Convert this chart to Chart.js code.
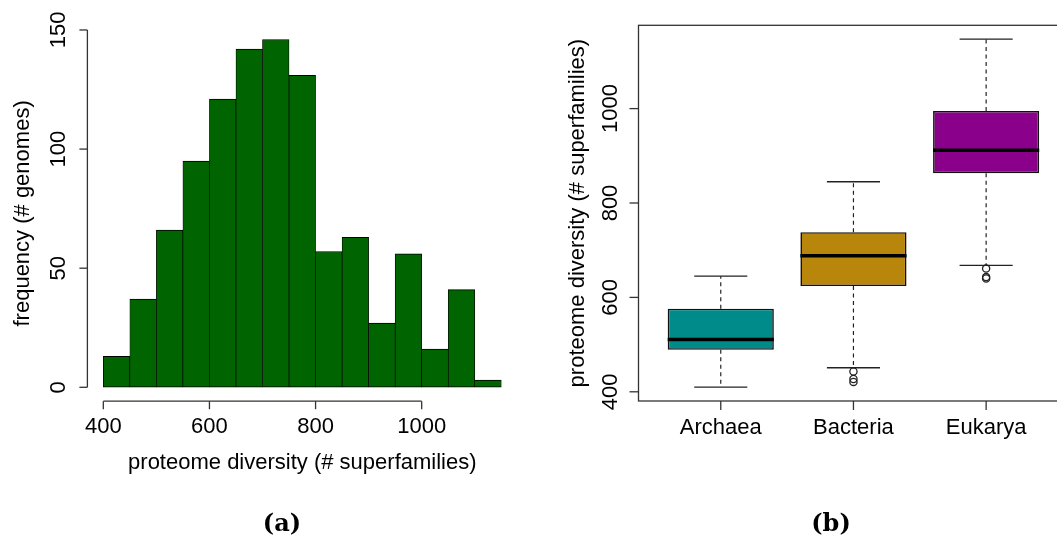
<!DOCTYPE html>
<html>
<head>
<meta charset="utf-8">
<script src="https://cdn.jsdelivr.net/npm/chart.js@4.4.1/dist/chart.umd.min.js"></script>
<style>
	body { margin: 0; background: #fff; overflow: hidden; width: 1057px; height: 538px; position: relative; }
	canvas { position: absolute; top: 0; }
	#hist { left: 0; }
	#box { left: 528px; }
	.caption {
		position: absolute;
		top: 508px;
		width: 80px;
		margin-left: -40px;
		text-align: center;
		font: bold 24px "DejaVu Serif", serif;
		color: #000;
	}
</style>
</head>
<body>
<canvas id="hist" width="528" height="538"></canvas>
<canvas id="box" width="560" height="538"></canvas>
<div class="caption" style="left: 282px;">(a)</div>
<div class="caption" style="left: 831px;">(b)</div>
<script type="text/javascript">
	// (a) histogram of proteome diversity
	var binEdges = [400, 450, 500, 550, 600, 650, 700, 750, 800, 850, 900, 950, 1000, 1050, 1100, 1150];
	var binCounts = [13, 37, 66, 95, 121, 142, 146, 131, 57, 63, 27, 56, 16, 41, 3];
	var histXTicks = [400, 600, 800, 1000];
	var histYTicks = [0, 50, 100, 150];

	// (b) boxplot per domain
	var domains = ['Archaea', 'Bacteria', 'Eukarya'];
	var whiskerLow = [410, 451, 668];
	var quartile1 = [489, 624, 863];
	var medians = [511, 688, 912];
	var quartile3 = [576, 738, 995];
	var whiskerHigh = [645, 845, 1147];
	var outliers = [[], [443, 427, 421], [661, 643, 640]];
	var boxYTicks = [400, 600, 800, 1000];

	var domainColors = ['#008B8B', '#B8860B', '#8B008B'];
	var FONT = '22px "Liberation Sans", Arial, sans-serif';
	var LINE = '#333';

	function txt(ctx, s, x, y, rotate) {
		ctx.save();
		ctx.translate(x, y);
		if (rotate) ctx.rotate(-Math.PI / 2);
		ctx.font = FONT;
		ctx.fillStyle = '#000';
		ctx.textAlign = 'center';
		ctx.textBaseline = 'alphabetic';
		ctx.fillText(s, 0, 0);
		ctx.restore();
	}

	function seg(ctx, x1, y1, x2, y2) {
		ctx.beginPath();
		ctx.moveTo(x1, y1);
		ctx.lineTo(x2, y2);
		ctx.stroke();
	}

	// R style axes, drawn from the chart's own scales
	var histAxes = {
		id: 'histAxes',
		afterDraw: function(chart) {
			var ctx = chart.ctx, a = chart.chartArea;
			var x = chart.scales.x, y = chart.scales.y;
			ctx.save();
			ctx.strokeStyle = LINE;
			ctx.lineWidth = 1.3;

			var y0 = y.getPixelForValue(histYTicks[0]);
			var y1 = y.getPixelForValue(histYTicks[histYTicks.length - 1]);
			seg(ctx, a.left, y0, a.left, y1);
			histYTicks.forEach(function(v) {
				var py = y.getPixelForValue(v);
				seg(ctx, a.left - 8, py, a.left, py);
				txt(ctx, String(v), 65, py, true);
			});
			txt(ctx, 'frequency (# genomes)', 29, (a.top + a.bottom) / 2, true);

			var x0 = x.getPixelForValue(histXTicks[0]);
			var x1 = x.getPixelForValue(histXTicks[histXTicks.length - 1]);
			seg(ctx, x0, a.bottom, x1, a.bottom);
			histXTicks.forEach(function(v) {
				var px = x.getPixelForValue(v);
				seg(ctx, px, a.bottom, px, a.bottom + 8);
				txt(ctx, String(v), px, 433, false);
			});
			txt(ctx, 'proteome diversity (# superfamilies)', (a.left + a.right) / 2, 469, false);
			ctx.restore();
		}
	};

	var boxAxes = {
		id: 'boxAxes',
		afterDraw: function(chart) {
			var ctx = chart.ctx, a = chart.chartArea;
			var x = chart.scales.x, y = chart.scales.y;
			ctx.save();
			ctx.strokeStyle = LINE;
			ctx.lineWidth = 1.3;
			ctx.strokeRect(a.left, a.top, a.right - a.left, a.bottom - a.top);

			boxYTicks.forEach(function(v) {
				var py = y.getPixelForValue(v);
				seg(ctx, a.left - 9, py, a.left, py);
				txt(ctx, String(v), 89, py, true);
			});
			txt(ctx, 'proteome diversity (# superfamilies)', 56, (a.top + a.bottom) / 2, true);

			domains.forEach(function(d, i) {
				var px = x.getPixelForValue(i + 1);
				seg(ctx, px, a.bottom, px, a.bottom + 9);
				txt(ctx, d, px, 433.5, false);
			});
			ctx.restore();
		}
	};

	var hidden = { display: false };

	new Chart(document.getElementById('hist').getContext('2d'), {
		type: 'bar',
		data: {
			datasets: [{
				data: binCounts.map(function(c, i) {
					return { x: (binEdges[i] + binEdges[i + 1]) / 2, y: c };
				}),
				backgroundColor: '#006400',
				borderColor: '#000',
				borderWidth: { top: 1, bottom: 1, left: 0.7, right: 0.7 },
				borderSkipped: false,
				categoryPercentage: 1,
				barPercentage: 1
			}]
		},
		options: {
			responsive: false,
			animation: false,
			events: [],
			layout: { padding: { left: 87.4, top: 25.6, right: 10.8, bottom: 136.8 } },
			plugins: { legend: hidden, tooltip: { enabled: false } },
			scales: {
				x: {
					type: 'linear', display: false, offset: false,
					min: 370, max: 1180,
					afterBuildTicks: function(s) { s.ticks = histXTicks.map(function(v) { return { value: v }; }); }
				},
				y: {
					type: 'linear', display: false,
					min: -5.84, max: 151.84
				}
			}
		},
		plugins: [histAxes]
	});

	// whiskers, caps and medians as line segments split by null points
	var whiskerPts = [], capPts = [], medianPts = [], outlierPts = [];
	domains.forEach(function(d, i) {
		var c = i + 1;
		whiskerPts.push({ x: c, y: quartile3[i] }, { x: c, y: whiskerHigh[i] }, { x: c, y: null });
		whiskerPts.push({ x: c, y: quartile1[i] }, { x: c, y: whiskerLow[i] }, { x: c, y: null });
		capPts.push({ x: c - 0.2, y: whiskerHigh[i] }, { x: c + 0.2, y: whiskerHigh[i] }, { x: c, y: null });
		capPts.push({ x: c - 0.2, y: whiskerLow[i] }, { x: c + 0.2, y: whiskerLow[i] }, { x: c, y: null });
		medianPts.push({ x: c - 0.4, y: medians[i] }, { x: c + 0.4, y: medians[i] }, { x: c, y: null });
		outliers[i].forEach(function(v) { outlierPts.push({ x: c, y: v }); });
	});

	var segLine = { type: 'line', pointRadius: 0, spanGaps: false, fill: false, tension: 0 };

	new Chart(document.getElementById('box').getContext('2d'), {
		type: 'bar',
		data: {
			datasets: [
				{
					order: 2,
					data: domains.map(function(d, i) {
						return { x: i + 1, y: [quartile1[i], quartile3[i]] };
					}),
					backgroundColor: domainColors,
					borderColor: '#111',
					borderWidth: 1.6,
					borderSkipped: false,
					categoryPercentage: 1,
					barPercentage: 0.8
				},
				Object.assign({}, segLine, {
					order: 3, data: whiskerPts,
					borderColor: '#222', borderWidth: 1.2, borderDash: [4, 3.5]
				}),
				Object.assign({}, segLine, {
					order: 3, data: capPts,
					borderColor: '#222', borderWidth: 1.3
				}),
				Object.assign({}, segLine, {
					order: 0, data: medianPts,
					borderColor: '#000', borderWidth: 3.5, borderCapStyle: 'butt'
				}),
				{
					type: 'scatter', order: 1, data: outlierPts,
					showLine: false, pointStyle: 'circle', pointRadius: 3.6,
					backgroundColor: 'rgba(0,0,0,0)', borderColor: '#222', borderWidth: 1.3
				}
			]
		},
		options: {
			responsive: false,
			animation: false,
			events: [],
			layout: { padding: { left: 110.5, top: 25.3, right: 19.6, bottom: 137 } },
			plugins: { legend: hidden, tooltip: { enabled: false } },
			scales: {
				x: {
					type: 'linear', display: false, offset: false,
					min: 0.38, max: 3.62,
					afterBuildTicks: function(s) { s.ticks = domains.map(function(d, i) { return { value: i + 1 }; }); }
				},
				y: {
					type: 'linear', display: false,
					min: 380.5, max: 1176.5
				}
			}
		},
		plugins: [boxAxes]
	});
</script>
</body>
</html>
